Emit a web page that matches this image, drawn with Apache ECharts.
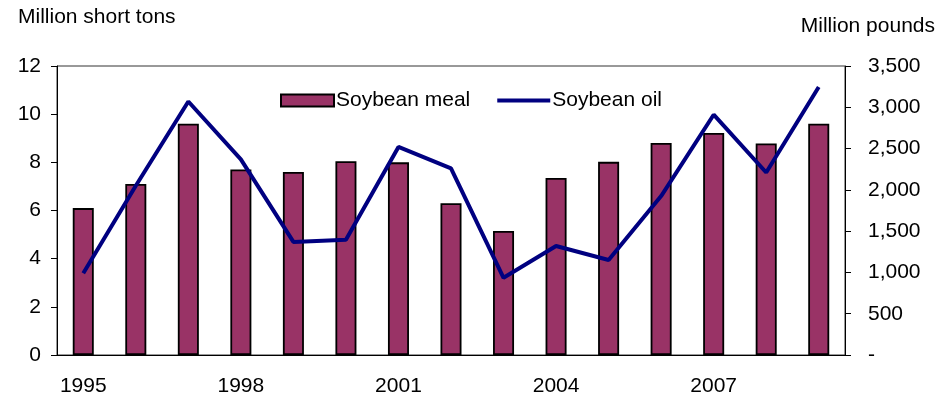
<!DOCTYPE html>
<html>
<head>
    <meta charset="utf-8">
    <script src="https://cdn.jsdelivr.net/npm/echarts@6/dist/echarts.min.js"></script>
</head>
<body style="margin:0;background:#fff;">
<div id="main" style="width: 945px;height:397px;"></div>

<script type="text/javascript">
    // years on the category axis
    var years = ['1995', '1996', '1997', '1998', '1999', '2000', '2001', '2002',
        '2003', '2004', '2005', '2006', '2007', '2008', '2009'];
    // soybean meal, million short tons (left axis)
    var mealValues = [6.1, 7.1, 9.6, 7.7, 7.6, 8.05, 8.0, 6.3, 5.15, 7.35, 8.02, 8.8, 9.22, 8.78, 9.6];
    // soybean oil, million pounds (right axis)
    var oilValues = [990, 2050, 3070, 2370, 1370, 1395, 2520, 2260, 935, 1320, 1150, 1925, 2910, 2210, 3245];

    var font = 'Arial, "Liberation Sans", sans-serif';
    var fs = 21;
    var myChart = echarts.init(document.getElementById('main'));

    myChart.setOption({
        animation: false,
        backgroundColor: '#fff',
        textStyle: {fontFamily: font},
        graphic: [
            {type: 'text', left: 18, top: 7,
                style: {text: 'Million short tons', font: fs + 'px ' + font, fill: '#000'}},
            {type: 'text', right: 10, top: 16,
                style: {text: 'Million pounds', font: fs + 'px ' + font, fill: '#000'}}
        ],
        legend: {
            left: 275,
            top: 85,
            itemWidth: 53,
            itemHeight: 12,
            itemGap: 27,
            textStyle: {fontSize: fs, color: '#000', fontFamily: font, padding: [0, 0, 0, -3]},
            data: [
                {name: 'Soybean meal', icon: 'rect'},
                {name: 'Soybean oil', icon: 'path://M0,0 L53,0 L53,4 L0,4 Z'}
            ]
        },
        grid: {
            left: 57, right: 100, top: 66, bottom: 40,
            show: true,
            borderColor: '#333',
            borderWidth: 1
        },
        xAxis: {
            type: 'category',
            data: years,
            boundaryGap: true,
            axisLine: {lineStyle: {color: '#000', width: 1}},
            axisTick: {interval: 0, length: 6, lineStyle: {color: '#000'}},
            axisLabel: {interval: 2, fontSize: fs, color: '#000', margin: 21, fontFamily: font}
        },
        yAxis: [
            {
                type: 'value',
                min: 0, max: 12, interval: 2,
                splitLine: {show: false},
                axisLine: {show: true, lineStyle: {color: '#000'}},
                axisTick: {show: true, length: 6, lineStyle: {color: '#000'}},
                axisLabel: {fontSize: fs, color: '#000', margin: 16, fontFamily: font}
            },
            {
                type: 'value',
                min: 0, max: 3500, interval: 500,
                splitLine: {show: false},
                axisLine: {show: true, lineStyle: {color: '#000'}},
                axisTick: {show: true, length: 6, lineStyle: {color: '#000'}},
                axisLabel: {
                    fontSize: fs, color: '#000', margin: 23, fontFamily: font,
                    formatter: function (v) {
                        return v === 0 ? '-' : v.toLocaleString('en-US');
                    }
                }
            }
        ],
        series: [
            {
                name: 'Soybean meal',
                type: 'bar',
                yAxisIndex: 0,
                data: mealValues,
                barWidth: '40%',
                itemStyle: {color: '#993366', borderColor: '#000', borderWidth: 1.8}
            },
            {
                name: 'Soybean oil',
                type: 'line',
                yAxisIndex: 1,
                data: oilValues,
                symbol: 'none',
                lineStyle: {color: '#000080', width: 4},
                itemStyle: {color: '#000080'}
            }
        ]
    });
</script>
</body>
</html>
